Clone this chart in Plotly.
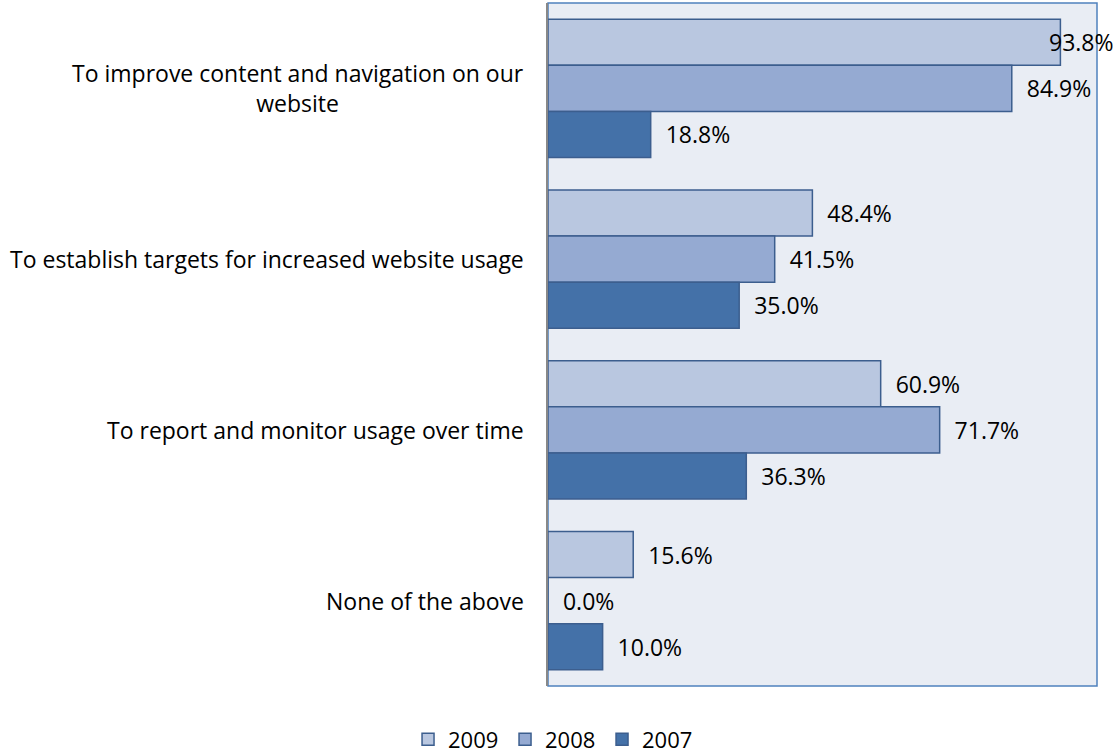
import plotly.graph_objects as go

categories = [
    "To improve content and navigation on our<br>website",
    "To establish targets for increased website usage",
    "To report and monitor usage over time",
    "None of the above",
]
years = ["2009", "2008", "2007"]
values = {
    "2009": [93.8, 48.4, 60.9, 15.6],
    "2008": [84.9, 41.5, 71.7, 0.0],
    "2007": [18.8, 35.0, 36.3, 10.0],
}
colors = {"2009": "#B9C7E0", "2008": "#95AAD2", "2007": "#4471A8"}
outline = "#3C5E8E"
FONT = "Open Sans"
PAD = "\u00a0\u00a0"
XMAX = 100.5

fig = go.Figure()
for yr in years:
    vals = values[yr]
    # labels that would run past the right edge are drawn as annotations instead
    texts = [PAD + f"{v:.1f}%" if v < 90 else "" for v in vals]
    fig.add_trace(go.Bar(
        y=categories, x=vals, name=yr, orientation="h",
        marker=dict(color=colors[yr], line=dict(color=outline, width=1.5)),
        text=texts, textposition="outside",
        textfont=dict(family=FONT, size=23, color="black"),
        cliponaxis=False,
    ))

# overflowing label(s), shifted back over the bar end like the original
for i, yr in enumerate(years):
    for c, v in zip(categories, values[yr]):
        if v >= 90:
            fig.add_annotation(x=v, y=c, xref="x", yref="y", text=f"{v:.1f}%",
                               xanchor="left", yanchor="middle", xshift=-13,
                               yshift=(1 - i) * 46, showarrow=False,
                               font=dict(family=FONT, size=23, color="black"))

for c in categories:
    fig.add_annotation(x=-0.04, xref="paper", y=c, yref="y", text=c,
                       xanchor="right", yanchor="middle", align="center",
                       showarrow=False, font=dict(family=FONT, size=23, color="black"))

fig.add_shape(type="rect", xref="paper", yref="paper", x0=0, x1=1, y0=0, y1=1,
              line=dict(color="#4F81BD", width=1.5), layer="below")

fig.update_layout(
    width=1116, height=753,
    margin=dict(l=548, r=19, t=3, b=67, autoexpand=False),
    paper_bgcolor="white", plot_bgcolor="#E9EDF4",
    barmode="group", bargap=0.19, bargroupgap=0,
    showlegend=True,
    legend=dict(orientation="h", x=0.496, xanchor="center", xref="container",
                y=0.018, yanchor="middle", yref="container",
                itemwidth=30, entrywidth=52,
                font=dict(family=FONT, size=22, color="black"), traceorder="normal"),
    xaxis=dict(range=[0, XMAX], showticklabels=False, showgrid=False, zeroline=False),
    yaxis=dict(autorange="reversed", showticklabels=False, showgrid=False,
               showline=True, linecolor="#888888", linewidth=2),
    font=dict(family=FONT),
)
fig.write_html("out.html")
